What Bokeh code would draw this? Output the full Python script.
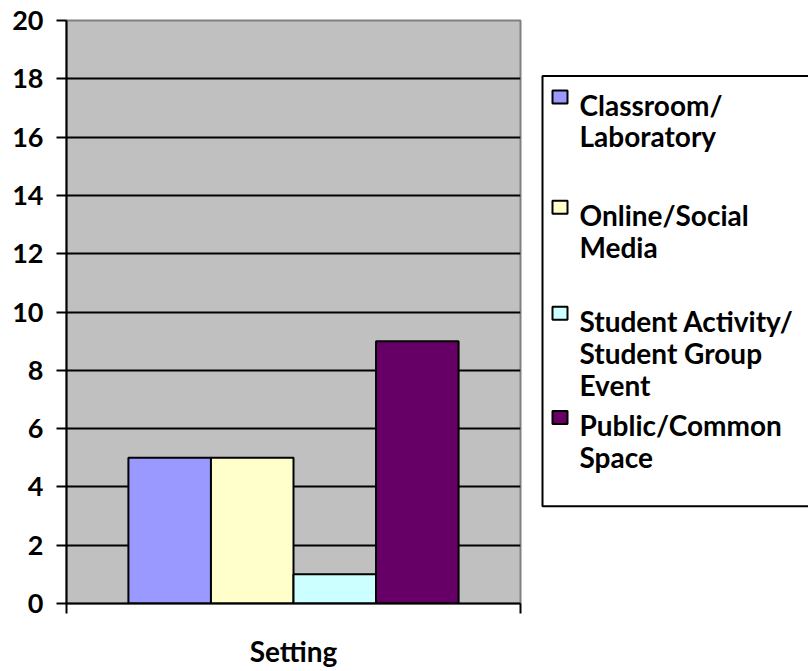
from bokeh.plotting import figure
from bokeh.layouts import row
from bokeh.models import Range1d, FixedTicker, ColumnDataSource
from bokeh.embed import file_html
from bokeh.resources import INLINE
from bokeh.core.properties import value

# ---------------- data ----------------
categories = ["Classroom/ Laboratory", "Online/Social Media",
              "Student Activity/ Student Group Event", "Public/Common Space"]
legend_lines = [["Classroom/", "Laboratory"],
                ["Online/Social", "Media"],
                ["Student Activity/", "Student Group", "Event"],
                ["Public/Common", "Space"]]
counts = [5, 5, 1, 9]
colors = ["#9999FF", "#FFFFCC", "#CCFFFF", "#660066"]
x_axis_label = "Setting"
y_ticks = [0, 2, 4, 6, 8, 10, 12, 14, 16, 18, 20]

FONT = "Lato"
FS = "28px"
TFS = "27px"

# ---------------- main chart ----------------
n = len(categories)
gap = 0.75
x0, x1 = -0.5 - gap, n - 0.5 + gap
src = ColumnDataSource(dict(x=list(range(n)), top=counts, color=colors, name=categories))

H = 671
W1 = 538
p = figure(width=W1, height=H, x_range=Range1d(x0, x1), y_range=Range1d(0, 20),
           output_backend="svg", toolbar_location=None,
           min_border_left=66, min_border_right=W1 - 66 - 454, min_border_top=20,
           min_border_bottom=H - 20 - 583)
p.background_fill_color = "#C0C0C0"
p.border_fill_color = "white"
p.outline_line_color = "#808080"
p.outline_line_width = 2

p.vbar(x="x", top="top", width=1, bottom=0, fill_color="color", line_color="black",
       line_width=2, source=src)

p.xgrid.visible = False
p.ygrid.grid_line_color = "black"
p.ygrid.grid_line_width = 2
p.ygrid.ticker = FixedTicker(ticks=y_ticks)

p.yaxis.ticker = FixedTicker(ticks=y_ticks)
p.yaxis.axis_line_width = 2
p.yaxis.axis_line_color = "black"
p.yaxis.major_tick_line_width = 2
p.yaxis.major_tick_out = 10
p.yaxis.major_tick_in = 0
p.yaxis.minor_tick_line_color = None
p.yaxis.major_label_standoff = 13
p.yaxis.major_label_text_font = FONT
p.yaxis.major_label_text_font_style = "bold"
p.yaxis.major_label_text_font_size = TFS
p.yaxis.major_label_text_color = "black"

p.xaxis.ticker = FixedTicker(ticks=[x0, x1])
p.xaxis.axis_line_width = 2
p.xaxis.axis_line_color = "black"
p.xaxis.major_tick_line_width = 2
p.xaxis.major_tick_out = 10
p.xaxis.major_tick_in = 0
p.xaxis.minor_tick_line_color = None
p.xaxis.major_label_overrides = {x0: " ", x1: " "}
p.xaxis.major_label_text_font_size = "1px"
p.xaxis.major_label_standoff = 0
p.xaxis.axis_label = x_axis_label
p.xaxis.axis_label_standoff = 16
p.xaxis.axis_label_text_font = FONT
p.xaxis.axis_label_text_font_style = "bold"
p.xaxis.axis_label_text_font_size = FS
p.xaxis.axis_label_text_color = "black"

# ---------------- legend panel ----------------
LW = 270
q = figure(width=LW, height=H, x_range=Range1d(0, LW), y_range=Range1d(H, 0),
           output_backend="svg", toolbar_location=None,
           min_border=0, min_border_left=0, min_border_right=0,
           min_border_top=0, min_border_bottom=0)
q.axis.visible = False
q.grid.visible = False
q.outline_line_color = None
q.background_fill_color = "white"
q.border_fill_color = "white"

q.quad(left=4, right=LW + 60, top=64, bottom=559, fill_color="white",
       line_color="black", line_width=2)

first_baselines = [97, 224, 346, 466]
line_step = 36.5
tx, sq_x, sq = 41, 21.5, 15
lx, ly, lt = [], [], []
sx, sy = [], []
for i, lines in enumerate(legend_lines):
    for j, t in enumerate(lines):
        lx.append(tx)
        ly.append(first_baselines[i] + j * line_step)
        lt.append(t)
    sx.append(sq_x)
    sy.append(first_baselines[i] - 9)

q.rect(x=sx, y=sy, width=sq, height=sq, fill_color=colors, line_color="black", line_width=2)
q.text(x=lx, y=ly, text=lt, text_baseline="alphabetic", text_align="left",
       text_font=value(FONT), text_font_style="bold", text_font_size=FS, text_color="black")

layout = row(p, q)
open("out.html", "w").write(file_html(layout, INLINE))
